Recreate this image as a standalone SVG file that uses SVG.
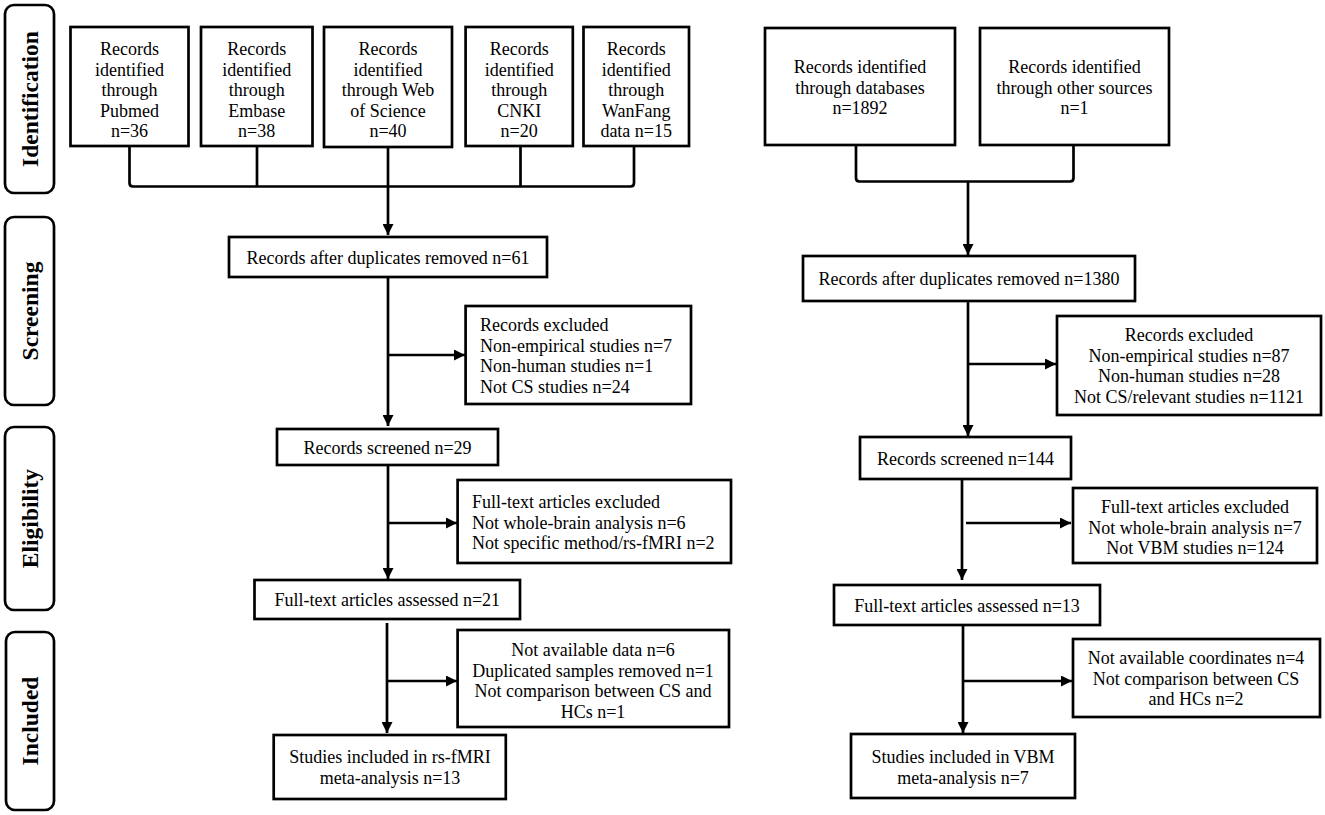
<svg xmlns="http://www.w3.org/2000/svg" width="1325" height="815" viewBox="0 0 1325 815">
<style>
.box{fill:#fff;stroke:#000;stroke-width:2.7}
.lab{fill:#fff;stroke:#000;stroke-width:2.7}
.t{font-family:"Liberation Serif","Times New Roman",serif;font-size:18px;fill:#000}
.c{text-anchor:middle}
.s{font-family:"Liberation Serif","Times New Roman",serif;font-size:23.5px;font-weight:bold;fill:#000;text-anchor:middle}
.ln{fill:none;stroke:#000;stroke-width:2.7}
</style>
<defs>
<marker id="ah" markerUnits="userSpaceOnUse" markerWidth="11" markerHeight="11" refX="10" refY="5" orient="auto" viewBox="0 0 10 10">
<path d="M0,0 L10,5 L0,10 z" fill="#000"/>
</marker>
</defs>
<rect width="1325" height="815" fill="#fff"/>

<g id="label-identification"><rect class="lab" x="5" y="5" width="49" height="188" rx="9"/><text class="s" transform="translate(38,99) rotate(-90)">Identification</text></g>
<g id="label-screening"><rect class="lab" x="5" y="217" width="49" height="188" rx="9"/><text class="s" transform="translate(38,311) rotate(-90)">Screening</text></g>
<g id="label-eligibility"><rect class="lab" x="5" y="427" width="49" height="183" rx="9"/><text class="s" transform="translate(38,518.5) rotate(-90)">Eligibility</text></g>
<g id="label-included"><rect class="lab" x="6" y="632" width="48" height="178" rx="9"/><text class="s" transform="translate(38,721) rotate(-90)">Included</text></g>

<g id="connectors">
<path class="ln" d="M129.5,146 V183 Q129.5,186.5 133,186.5 H630.5 Q634,186.5 634,183 V146"/>
<path class="ln" d="M257,146 V186.5 M520.5,146 V186.5"/>
<path class="ln" d="M388,147 V235" marker-end="url(#ah)"/>
<path class="ln" d="M388,277 V426" marker-end="url(#ah)"/>
<path class="ln" d="M388,355 H465" marker-end="url(#ah)"/>
<path class="ln" d="M388,465 V579" marker-end="url(#ah)"/>
<path class="ln" d="M388,523 H457" marker-end="url(#ah)"/>
<path class="ln" d="M387,623 V733" marker-end="url(#ah)"/>
<path class="ln" d="M387,681 H457" marker-end="url(#ah)"/>

<path class="ln" d="M856,145 V178 Q856,181.5 859.5,181.5 H1070 Q1073.5,181.5 1073.5,178 V145"/>
<path class="ln" d="M968,181.5 V255" marker-end="url(#ah)"/>
<path class="ln" d="M968,301 V436" marker-end="url(#ah)"/>
<path class="ln" d="M968,364 H1056" marker-end="url(#ah)"/>
<path class="ln" d="M962,479 V580" marker-end="url(#ah)"/>
<path class="ln" d="M966,523 H1071" marker-end="url(#ah)"/>
<path class="ln" d="M963,625 V733" marker-end="url(#ah)"/>
<path class="ln" d="M963,681 H1072" marker-end="url(#ah)"/>
</g>

<g id="pubmed"><rect class="box" x="70.5" y="27" width="118" height="119"/>
<text class="t c" x="129.5" y="55">Records</text><text class="t c" x="129.5" y="75.5">identified</text><text class="t c" x="129.5" y="96">through</text><text class="t c" x="129.5" y="116.5">Pubmed</text><text class="t c" x="129.5" y="137">n=36</text></g>
<g id="embase"><rect class="box" x="201" y="27" width="111.5" height="119"/>
<text class="t c" x="256.7" y="55">Records</text><text class="t c" x="256.7" y="75.5">identified</text><text class="t c" x="256.7" y="96">through</text><text class="t c" x="256.7" y="116.5">Embase</text><text class="t c" x="256.7" y="137">n=38</text></g>
<g id="wos"><rect class="box" x="324" y="27" width="128" height="120"/>
<text class="t c" x="388" y="55">Records</text><text class="t c" x="388" y="75.5">identified</text><text class="t c" x="388" y="96">through Web</text><text class="t c" x="388" y="116.5">of Science</text><text class="t c" x="388" y="137">n=40</text></g>
<g id="cnki"><rect class="box" x="465.6" y="27" width="107.2" height="119"/>
<text class="t c" x="519.2" y="55">Records</text><text class="t c" x="519.2" y="75.5">identified</text><text class="t c" x="519.2" y="96">through</text><text class="t c" x="519.2" y="116.5">CNKI</text><text class="t c" x="519.2" y="137">n=20</text></g>
<g id="wanfang"><rect class="box" x="583.5" y="27" width="105.5" height="119"/>
<text class="t c" x="636.2" y="55">Records</text><text class="t c" x="636.2" y="75.5">identified</text><text class="t c" x="636.2" y="96">through</text><text class="t c" x="636.2" y="116.5">WanFang</text><text class="t c" x="636.2" y="137">data n=15</text></g>

<g id="dup-left"><rect class="box" x="229" y="237" width="318" height="40"/>
<text class="t c" x="388" y="264">Records after duplicates removed n=61</text></g>
<g id="excl-left"><rect class="box" x="465.6" y="306" width="225.4" height="98"/>
<text class="t" x="480" y="331">Records excluded</text><text class="t" x="480" y="351.5">Non-empirical studies n=7</text><text class="t" x="480" y="372">Non-human studies n=1</text><text class="t" x="480" y="392.5">Not CS studies n=24</text></g>
<g id="screened-left"><rect class="box" x="277" y="429" width="221" height="36"/>
<text class="t c" x="387.5" y="454">Records screened n=29</text></g>
<g id="ftexcl-left"><rect class="box" x="457.6" y="480" width="273.4" height="83"/>
<text class="t" x="472" y="508">Full-text articles excluded</text><text class="t" x="472" y="528.5">Not whole-brain analysis n=6</text><text class="t" x="472" y="549">Not specific method/rs-fMRI n=2</text></g>
<g id="assessed-left"><rect class="box" x="254.5" y="580" width="265.5" height="39"/>
<text class="t c" x="387.3" y="606">Full-text articles assessed n=21</text></g>
<g id="notavail-left"><rect class="box" x="457.6" y="630" width="271.4" height="97"/>
<text class="t c" x="593" y="656">Not available data n=6</text><text class="t c" x="593" y="676.5">Duplicated samples removed n=1</text><text class="t c" x="593" y="697">Not comparison between CS and</text><text class="t c" x="593" y="717.5">HCs n=1</text></g>
<g id="included-left"><rect class="box" x="273.7" y="735" width="232.1" height="64"/>
<text class="t c" x="390" y="763">Studies included in rs-fMRI</text><text class="t c" x="390" y="784">meta-analysis n=13</text></g>

<g id="databases"><rect class="box" x="765" y="28" width="190" height="117"/>
<text class="t c" x="860" y="73">Records identified</text><text class="t c" x="860" y="93.5">through databases</text><text class="t c" x="860" y="114">n=1892</text></g>
<g id="other-sources"><rect class="box" x="980" y="28" width="189" height="117"/>
<text class="t c" x="1074.5" y="73">Records identified</text><text class="t c" x="1074.5" y="93.5">through other sources</text><text class="t c" x="1074.5" y="114">n=1</text></g>
<g id="dup-right"><rect class="box" x="803" y="256" width="332" height="45"/>
<text class="t c" x="969" y="285">Records after duplicates removed n=1380</text></g>
<g id="excl-right"><rect class="box" x="1057" y="316" width="264" height="99"/>
<text class="t c" x="1189" y="341">Records excluded</text><text class="t c" x="1189" y="361.5">Non-empirical studies n=87</text><text class="t c" x="1189" y="382">Non-human studies n=28</text><text class="t c" x="1189" y="402.5">Not CS/relevant studies n=1121</text></g>
<g id="screened-right"><rect class="box" x="860" y="437" width="211" height="42"/>
<text class="t c" x="965.5" y="465">Records screened n=144</text></g>
<g id="ftexcl-right"><rect class="box" x="1073" y="488" width="244" height="75"/>
<text class="t c" x="1195" y="513">Full-text articles excluded</text><text class="t c" x="1195" y="533.5">Not whole-brain analysis n=7</text><text class="t c" x="1195" y="554">Not VBM studies n=124</text></g>
<g id="assessed-right"><rect class="box" x="834" y="585" width="266" height="40"/>
<text class="t c" x="967" y="612">Full-text articles assessed n=13</text></g>
<g id="notavail-right"><rect class="box" x="1073" y="639" width="247" height="78"/>
<text class="t c" x="1196" y="664">Not available coordinates n=4</text><text class="t c" x="1196" y="684.5">Not comparison between CS</text><text class="t c" x="1196" y="705">and HCs n=2</text></g>
<g id="included-right"><rect class="box" x="851" y="734" width="224" height="64"/>
<text class="t c" x="963" y="763">Studies included in VBM</text><text class="t c" x="963" y="784">meta-analysis n=7</text></g>
</svg>
